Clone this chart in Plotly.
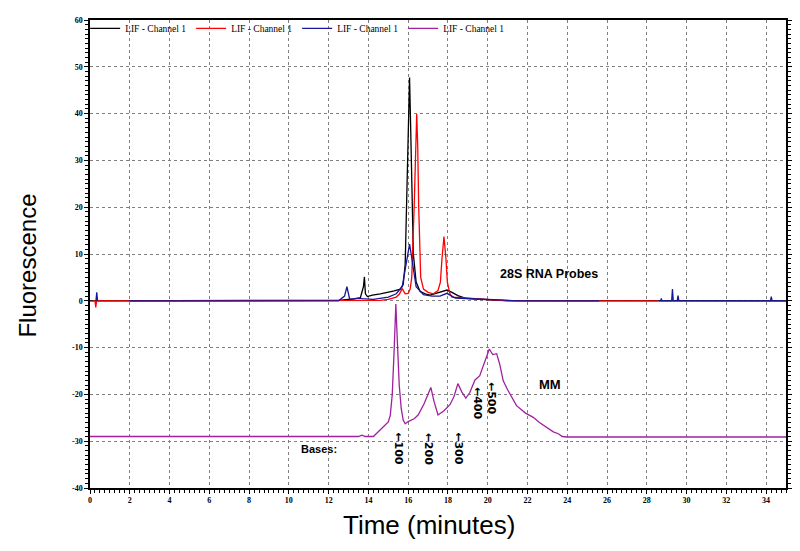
import plotly.graph_objects as go

# ---- data (time in minutes, fluorescence) ----
black_t = [0, 12.0, 12.5, 13.0, 13.3, 13.6, 13.75, 13.8, 13.85, 13.95, 14.2, 14.6, 15.0, 15.3, 15.6, 15.75,
           15.85, 15.95, 16.02, 16.07, 16.12, 16.18, 16.26, 16.4, 16.6, 16.9, 17.1, 17.4, 17.7, 17.95, 18.2,
           18.5, 18.9, 19.5, 20.1, 21.0, 35]
black_y = [0, 0, 0.1, 0.3, 0.4, 0.7, 3.0, 5.1, 1.5, 0.9, 1.2, 1.5, 1.8, 2.1, 2.5, 3.5,
           7.8, 24, 40, 47.7, 38, 24, 10, 4, 2, 1.4, 1.2, 1.6, 2.0, 2.3, 1.8,
           1.1, 0.5, 0.3, 0.2, 0.05, 0]

red_t = [0.13, 0.25, 0.29, 0.33, 2.0, 14.0, 14.6, 15.0, 15.4, 15.55, 15.7, 15.85, 16.0, 16.1, 16.18, 16.3,
         16.38, 16.43, 16.48, 16.53, 16.63, 16.77, 17.0, 17.27, 17.5, 17.62, 17.7, 17.8, 17.9, 17.97,
         18.1, 18.2, 18.5, 18.9, 19.5, 20.6, 21.0, 28.57]
red_y = [0, 0, -1.4, 0, 0, 0, 0.1, 0.3, 0.8, 1.4, 2.6, 1.5, 1.6, 2.5, 5, 20,
         33, 39.9, 33, 20, 5, 2.5, 1.8, 1.5, 2.2, 4, 9, 13.7, 9, 4,
         1.5, 0.8, 0.7, 0.6, 0.4, 0.2, 0, 0]

blue_t = [0.30, 0.34, 0.38, 1.0, 2.0, 12.5, 12.8, 12.92, 13.0, 13.06, 13.4, 14.25, 15.0, 15.4, 15.7, 15.85,
          15.95, 16.07, 16.15, 16.23, 16.4, 16.77, 17.2, 17.6, 17.95, 18.37, 19.0, 19.6, 20.9, 21.5, 25.6,
          27.0, 28.6, 28.7, 28.73, 28.76, 29.25, 29.29, 29.33, 29.53, 29.57, 29.61, 34.22, 34.26, 34.3, 35]
blue_y = [0, 1.8, 0, None, 0, 0, 1.0, 3.0, 1.5, 0.3, 0.5, 0.3, 0.8, 1.5, 3.0, 6.5,
          9.5, 12.1, 10, 7.8, 3, 1.3, 1.0, 1.0, 1.6, 0.6, 0.5, 0.4, 0.2, 0, 0,
          None, 0, 0, 0.5, 0, 0, 2.5, 0, 0, 1.1, 0, 0, 0.9, 0, 0]

mm_t = [0, 13.5, 13.67, 13.85, 14.25, 14.4, 14.6, 14.85, 15.0, 15.1, 15.2, 15.3, 15.38, 15.45, 15.55, 15.65,
        15.75, 15.85, 16.0, 16.3, 16.5, 16.8, 17.0, 17.14, 17.3, 17.5, 17.8, 18.1, 18.3, 18.5, 18.7, 18.9,
        19.1, 19.36, 19.6, 19.8, 20.08, 20.25, 20.45, 20.6, 20.78, 21.0, 21.45, 21.9, 22.29, 22.6, 22.96,
        23.3, 23.55, 23.75, 24.0, 35]
mm_y = [-29.0, -29.0, -28.7, -29.0, -29.0, -28.4, -27.5, -26.5, -25.9, -24.5, -20, -10, -0.7, -8, -18, -23,
        -25.5, -26.3, -25.8, -25.2, -24.4, -22, -20, -18.5, -21.5, -24.4, -23.5, -22.2, -20.5, -17.7, -19.5, -20.8,
        -19.6, -16.9, -16.0, -13.5, -10.3, -11.5, -11.3, -13.5, -17.1, -19.0, -22.4, -24.0, -24.9, -26.0, -27.1,
        -28.0, -28.4, -29.0, -29.1, -29.1]

legend_names = ["LIF - Channel 1", "LIF - Channel 1", "LIF - Channel 1", "LIF - Channel 1"]
x_ticks = list(range(0, 35, 2))
y_ticks = list(range(-40, 61, 10))

base_labels = ["\u2190100", "\u2190200", "\u2190300", "\u2190400", "\u2190500"]
base_t = [15.51, 17.0, 18.53, 19.45, 20.2]
base_y = [-31.6, -31.6, -31.6, -22.0, -20.9]

# ---- figure ----
fig = go.Figure()
series = [(black_t, black_y, "#000000"), (red_t, red_y, "#ff0000"),
          (blue_t, blue_y, "#16169c"), (mm_t, mm_y, "#a020a0")]
for (t, y, c), name in zip(series, legend_names):
    fig.add_trace(go.Scatter(x=t, y=y, mode="lines", name=name,
                             line=dict(color=c, width=1.3), connectgaps=False))

tickfont = dict(family="Liberation Serif", size=8, color="black", weight="bold")
fig.update_xaxes(range=[0, 35], tickvals=x_ticks, ticktext=[str(v) for v in x_ticks],
                 showline=True, linecolor="black", linewidth=1.5, mirror=True,
                 ticks="outside", ticklen=4, tickcolor="black", tickfont=tickfont,
                 showgrid=True, gridcolor="#808080", griddash="3px,3px", gridwidth=1,
                 zeroline=False,
                 minor=dict(dtick=0.25, ticks="outside", ticklen=3, tickcolor="black", showgrid=False))
fig.update_yaxes(range=[-40, 60], tickvals=y_ticks, ticktext=[str(v) for v in y_ticks],
                 showline=True, linecolor="black", linewidth=1.5, mirror="ticks",
                 ticks="outside", ticklen=4, tickcolor="black", tickfont=tickfont,
                 showgrid=True, gridcolor="#808080", griddash="3px,3px", gridwidth=1,
                 zeroline=False,
                 minor=dict(dtick=1, ticks="outside", ticklen=3, tickcolor="black", showgrid=False))

ann = [
    dict(text="Fluorescence", x=-0.09, y=0.476, xref="paper", yref="paper", textangle=-90,
         xanchor="center", yanchor="middle", showarrow=False,
         font=dict(family="Liberation Sans", size=24, color="black")),
    dict(text="Time (minutes)", x=0.487, y=-0.08, xref="paper", yref="paper",
         xanchor="center", yanchor="middle", showarrow=False,
         font=dict(family="Liberation Sans", size=26, color="black")),
    dict(text="28S RNA Probes", x=23.1, y=5.8, xref="x", yref="y", showarrow=False,
         xanchor="center", yanchor="middle",
         font=dict(family="Liberation Sans", size=12.5, color="black", weight="bold")),
    dict(text="MM", x=23.15, y=-17.8, xref="x", yref="y", showarrow=False,
         xanchor="center", yanchor="middle",
         font=dict(family="Liberation Sans", size=13, color="black", weight="bold")),
    dict(text="Bases:", x=11.5, y=-31.6, xref="x", yref="y", showarrow=False,
         xanchor="center", yanchor="middle",
         font=dict(family="Liberation Sans", size=11, color="black", weight="bold")),
]
for lab, t, y in zip(base_labels, base_t, base_y):
    ann.append(dict(text=lab, x=t, y=y, xref="x", yref="y", showarrow=False, textangle=90,
                    xanchor="center", yanchor="middle",
                    font=dict(family="DejaVu Sans", size=11, color="black", weight="bold")))

fig.update_layout(
    width=792, height=543,
    margin=dict(l=82, r=14, t=12, b=63, autoexpand=False),
    paper_bgcolor="white", plot_bgcolor="white",
    showlegend=True,
    legend=dict(orientation="h", x=-0.007, y=1.013, xanchor="left", yanchor="top",
                bgcolor="rgba(0,0,0,0)", font=dict(family="Liberation Serif", size=9.5, color="black"),
                itemwidth=30, entrywidth=61, entrywidthmode="pixels", tracegroupgap=0),
    annotations=ann,
)
fig.write_html("out.html")
